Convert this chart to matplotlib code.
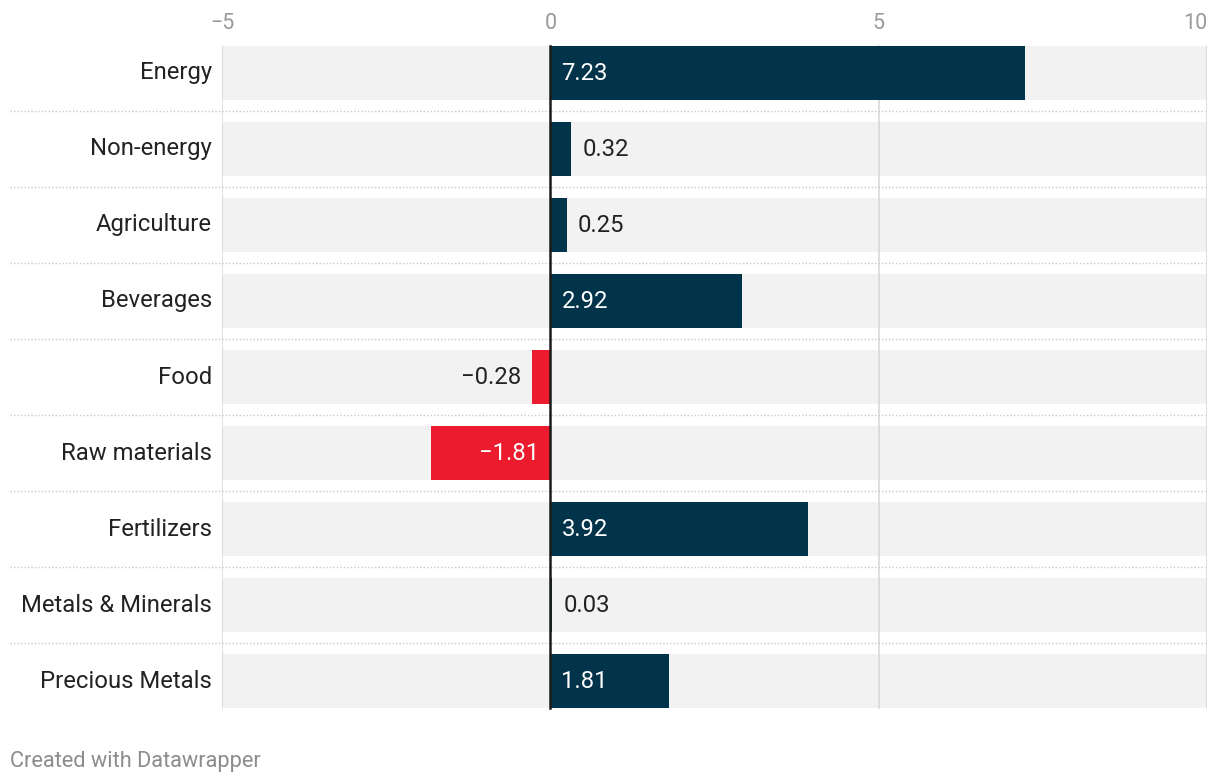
import matplotlib
matplotlib.use("Agg")
import matplotlib.pyplot as plt

plt.rcParams['font.family'] = ['Roboto', 'DejaVu Sans']

# data
categories = ["Energy", "Non-energy", "Agriculture", "Beverages", "Food",
              "Raw materials", "Fertilizers", "Metals & Minerals", "Precious Metals"]
values = [7.23, 0.32, 0.25, 2.92, -0.28, -1.81, 3.92, 0.03, 1.81]
x_ticks = [-5, 0, 5, 10]

navy = "#01334a"
red = "#ec1c2e"
band = "#f2f2f2"
text_dark = "#222222"

W, H = 1220, 784
fig = plt.figure(figsize=(W / 100, H / 100), dpi=100)
# axes placed in pixel terms: x -5..10 spans 222..1207, rows pitch 76px starting at 72
left, right = 222, 1207
top, bottom = 35, 719
ax = fig.add_axes([left / W, 1 - bottom / H, (right - left) / W, (bottom - top) / H])

n = len(categories)
ax.set_xlim(-5, 10)
ax.set_ylim(n - 0.5, -0.5)
bh = 54 / 76
fs = 17.2

# grey background bands
for i in range(n):
    ax.barh(i, 15, left=-5, height=bh, color=band, zorder=0)

# vertical gridlines
for t in [-5, 5, 10]:
    ax.plot([t, t], [-bh / 2, n - 1 + bh / 2], color="#d6d6d6", lw=1.1, zorder=1)

# dotted row separators, running past the axes on the left
for i in range(n - 1):
    ax.plot([-0.215, 0.998], [i + 0.5, i + 0.5], transform=ax.get_yaxis_transform(),
            color="#c8c8c8", lw=1.0, ls=(0, (1, 1.5)), clip_on=False, zorder=1)

colors = [navy if v >= 0 else red for v in values]
ax.barh(range(n), values, height=bh, color=colors, zorder=2)

# zero line
ax.plot([0, 0], [-bh / 2, n - 1 + bh / 2], color="#1a1a1a", lw=1.8, zorder=3)

pad = 0.17
for i, v in enumerate(values):
    label = f"{v:.2f}".replace("-", "\u2212")
    inside = abs(v) >= 1.5
    if v >= 0:
        if inside:
            ax.text(pad, i, label, color="white", ha="left", va="center", fontsize=fs, zorder=4)
        else:
            ax.text(v + pad, i, label, color=text_dark, ha="left", va="center", fontsize=fs, zorder=4)
    else:
        if inside:
            ax.text(-pad, i, label, color="white", ha="right", va="center", fontsize=fs, zorder=4)
        else:
            ax.text(v - pad, i, label, color=text_dark, ha="right", va="center", fontsize=fs, zorder=4)

# category labels
for i, c in enumerate(categories):
    ax.text(-0.0102, i, c, transform=ax.get_yaxis_transform(), ha="right", va="center",
            fontsize=fs, color=text_dark)

ax.set_yticks([])
ax.xaxis.tick_top()
ax.set_xticks(x_ticks)
ax.tick_params(axis="x", length=0, pad=1, labelsize=15.5, labelcolor="#9a9a9a")
# last tick label sits flush with the right edge
ax.get_xticklabels()[-1].set_horizontalalignment("right")
for s in ax.spines.values():
    s.set_visible(False)

fig.text(10 / W, 1 - 761 / H, "Created with Datawrapper", ha="left", va="center",
         fontsize=15.7, color="#8c8c8c")

fig.savefig("out.png", dpi=100)
